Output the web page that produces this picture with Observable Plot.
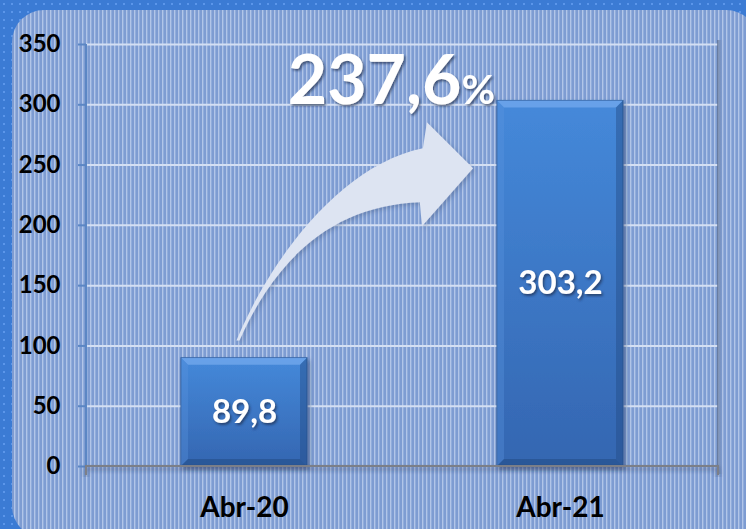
<!DOCTYPE html>
<html>
<head>
<meta charset="utf-8">
<script src="https://cdn.jsdelivr.net/npm/d3@7"></script>
<script src="https://cdn.jsdelivr.net/npm/@observablehq/plot@0.6"></script>
<style>
  html, body { margin:0; padding:0; }
  body {
    width:746px; height:529px; overflow:hidden; position:relative;
    background-color:#3b7bd4;
    background-image: radial-gradient(circle, #5b96ea 0.9px, transparent 1.3px);
    background-size: 8px 8px;
  }
  #panel {
    position:absolute; left:12px; top:10px; width:746px; height:528px;
    border-radius:32px;
    background: repeating-linear-gradient(90deg, #7e9cd2 0px, #7e9cd2 2px, #b2c5e8 2px, #b2c5e8 3px, #91addc 3px, #91addc 4px);
  }
  #chart { position:absolute; left:0; top:0; }
</style>
</head>
<body>
<div id="panel"></div>
<div id="chart"></div>
<script>
const categories = ["Abr-20", "Abr-21"];
const values = [89.8, 303.2];
const yTicks = [0, 50, 100, 150, 200, 250, 300, 350];
const arrowValues = [104, 247]; // tail and tip heights of the growth arrow

const fmt = v => v.toFixed(1).replace(".", ",");
const data = categories.map((c, i) => ({cat: c, value: values[i], label: fmt(values[i])}));
const growth = fmt((values[1] / values[0] - 1) * 100);

const chart = Plot.plot({
  width: 746, height: 529,
  marginTop: 44, marginRight: 28, marginBottom: 63, marginLeft: 86,
  style: {background: "transparent", fontFamily: "Lato, sans-serif", color: "black", overflow: "visible"},
  x: {domain: categories, paddingInner: 0.6, paddingOuter: 0.3, label: null},
  y: {domain: [0, 350], ticks: yTicks, label: null},
  marks: [
    Plot.ruleY(yTicks.filter(d => d > 0), {stroke: "#d4dff3", strokeWidth: 2}),
    Plot.barY(data, {x: "cat", y: "value", fill: "url(#barGrad)", stroke: "#2c5a98", strokeWidth: 1}),
    Plot.axisY({ticks: yTicks, tickSize: 8, tickPadding: 18, fontSize: 24, fontWeight: "bold", fill: "black", stroke: "#5b86c4", strokeWidth: 2, label: null, tickFormat: d => String(d)}),
    Plot.axisX({tickSize: 0, tickPadding: 31, fontSize: 28, fontWeight: "bold", fill: "black", label: null}),
    Plot.text(data, {x: "cat", y: d => d.value / 2, text: "label", fill: "white", fontSize: 33, fontWeight: "bold"})
  ]
});
document.getElementById("chart").appendChild(chart);

// ---- decorations computed from the chart's scales ----
const svg = d3.select(chart.tagName.toLowerCase() === "svg" ? chart : chart.querySelector("svg"));
const xs = chart.scale("x"), ys = chart.scale("y");
const bw = xs.bandwidth;
const [xl, xr] = xs.range;
const [yb, yt] = ys.range;

const defs = svg.insert("defs", ":first-child");
const g1 = defs.append("linearGradient").attr("id", "barGrad").attr("x1", 0).attr("y1", 0).attr("x2", 0).attr("y2", 1);
g1.append("stop").attr("offset", "0%").attr("stop-color", "#4589da");
g1.append("stop").attr("offset", "100%").attr("stop-color", "#3466b1");
const g2 = defs.append("linearGradient").attr("id", "wallGrad").attr("x1", 0).attr("y1", 0).attr("x2", 1).attr("y2", 0);
g2.append("stop").attr("offset", "0%").attr("stop-color", "#5d6f90").attr("stop-opacity", 0.85);
g2.append("stop").attr("offset", "100%").attr("stop-color", "#7d93bb").attr("stop-opacity", 0);
function shadow(id, dx, dy, sd, col, op) {
  defs.append("filter").attr("id", id).attr("x", "-20%").attr("y", "-20%").attr("width", "140%").attr("height", "140%")
    .append("feDropShadow").attr("dx", dx).attr("dy", dy).attr("stdDeviation", sd)
    .attr("flood-color", col).attr("flood-opacity", op);
}
shadow("barShadow", 2, 3, 2, "#1a2f55", 0.45);
shadow("textShadow", 1.5, 2, 1.2, "#1b2a48", 0.65);
shadow("arrowShadow", 2, 2, 2, "#2a3f66", 0.3);
shadow("axisShadow", 0, 3, 2, "#1a2a44", 0.5);

const barG = svg.select('g[aria-label="bar"]').attr("filter", "url(#barShadow)");
const barNode = barG.node();
function before(node) { return () => node; }

// wall shadow on the right side
svg.insert("rect", before(barNode))
  .attr("x", xr - 1).attr("y", yt - 4).attr("width", 6).attr("height", yb - yt + 12)
  .attr("fill", "url(#wallGrad)");

// left axis line
svg.insert("line", before(barNode))
  .attr("x1", xl).attr("x2", xl).attr("y1", yt).attr("y2", yb)
  .attr("stroke", "#5b86c4").attr("stroke-width", 2);

// growth arrow
const tx = xs.apply(categories[0]) + bw * 0.44, ty = ys.apply(arrowValues[0]);
const px = xs.apply(categories[1]) - bw * 0.19, py = ys.apply(arrowValues[1]);
const W = px - tx, H = ty - py;
const P = (u, v) => [tx + u * W, ty - v * H];
const pt = (u, v) => P(u, v).join(",");
const arrowPath =
  `M${pt(0, 0)}` +
  `C${pt(0.14, 0.465)} ${pt(0.436, 1.017)} ${pt(0.788, 1.116)}` +
  `L${pt(0.805, 1.267)}` +
  `L${pt(1, 1)}` +
  `L${pt(0.784, 0.663)}` +
  `L${pt(0.775, 0.802)}` +
  `C${pt(0.436, 0.785)} ${pt(0.182, 0.523)} ${pt(0.013, 0)}Z`;
svg.insert("path", before(barNode))
  .attr("d", arrowPath).attr("fill", "#dde4f2").attr("filter", "url(#arrowShadow)");

// bevels on bars
const bev = svg.append("g");
data.forEach(d => {
  const x0 = xs.apply(d.cat), x1 = x0 + bw, y0 = ys.apply(d.value), y1 = ys.apply(0), b = 7;
  const poly = (pts, fill, op) => bev.append("polygon").attr("points", pts.map(p => p.join(",")).join(" ")).attr("fill", fill).attr("opacity", op);
  poly([[x0, y0], [x1, y0], [x1 - b, y0 + b], [x0 + b, y0 + b]], "#74aaee", 0.75);
  poly([[x0, y0], [x0 + b, y0 + b], [x0 + b, y1 - b], [x0, y1]], "#5b95e0", 0.35);
  poly([[x1, y0], [x1, y1], [x1 - b, y1 - b], [x1 - b, y0 + b]], "#234c86", 0.45);
  poly([[x0, y1], [x1, y1], [x1 - b, y1 - b], [x0 + b, y1 - b]], "#204780", 0.5);
});

// x baseline with end ticks
svg.append("path")
  .attr("d", `M${xl},${yb + 9}V${yb}H${xr}V${yb + 9}`)
  .attr("fill", "none").attr("stroke", "#7b7f88").attr("stroke-width", 2)
  .attr("filter", "url(#axisShadow)");

// value labels shadow (move above bevels)
const textG = svg.selectAll('g[aria-label="text"]').attr("filter", "url(#textShadow)");
textG.each(function() { this.parentNode.appendChild(this); });

// growth label
const gt = svg.append("text")
  .attr("x", xs.apply(categories[1]) - 2).attr("y", ys.apply(300))
  .attr("text-anchor", "end").attr("fill", "white").attr("font-weight", "bold")
  .attr("font-family", "Lato, sans-serif").attr("filter", "url(#textShadow)");
gt.append("tspan").attr("font-size", 68).text(growth);
gt.append("tspan").attr("font-size", 41).text("%");
</script>
</body>
</html>
